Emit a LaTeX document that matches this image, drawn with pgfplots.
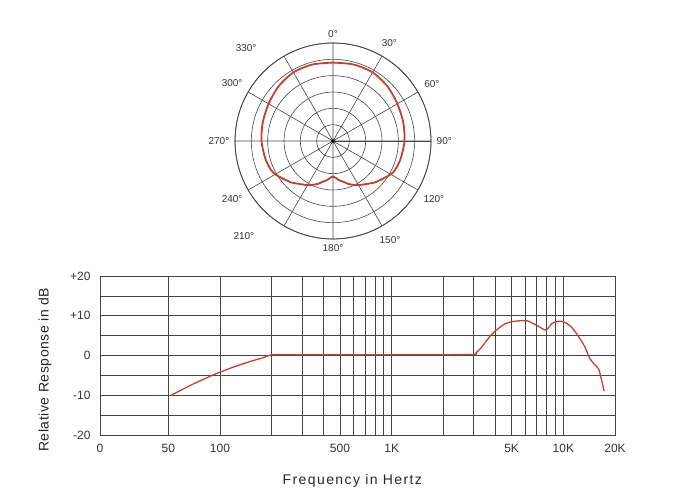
\documentclass[border=0pt]{standalone}
\usepackage{fontspec}
\setmainfont{Liberation Sans}
\usepackage{pgfplots}
\pgfplotsset{compat=1.18}
\usepgfplotslibrary{polar}
\definecolor{curvered}{RGB}{196,64,44}
\definecolor{gridgray}{RGB}{70,70,70}
\begin{document}
\begin{tikzpicture}[x=1pt,y=1pt]
\path[use as bounding box] (0,0) rectangle (677,500);
\begin{polaraxis}[
  at={(333pt,359pt)}, anchor=center,
  scale only axis, width=196pt, height=196pt,
  xmin=0, xmax=360, ymin=0, ymax=6,
  xtick={0,30,...,330},
  xticklabels={90°,60°,30°,0°,{},300°,270°,240°,{},180°,150°,120°},
  ytick={1,2,3,4,5,6}, yticklabels={},
  grid=major, major grid style={gridgray, line width=0.6pt},
  axis line style={gridgray, line width=0.8pt},
  tick label style={font=\fontsize{10}{11}\selectfont, text=black!80},
  xticklabel style={inner sep=5.5pt},
  major tick length=0pt,
  clip=false,
]
\addplot[curvered, line width=1.8pt, smooth, tension=0.45] coordinates {
(90,4.80) (75,4.85) (60,4.85) (45,4.72) (30,4.55) (15,4.45) (0,4.38)
(-15,4.28) (-25,4.19) (-30,4.08) (-37,3.83) (-45,3.60) (-49,3.44)
(-55,3.25) (-62,3.06) (-70,2.80) (-76,2.57) (-82,2.40) (-86,2.25) (-90,2.18)
(-94,2.25) (-98,2.40) (-104,2.57) (-110,2.80) (-118,3.06) (-125,3.25)
(-131,3.44) (-135,3.60) (-143,3.83) (-150,4.08) (-155,4.19) (-165,4.28)
(-180,4.38) (-195,4.45) (-210,4.55) (-225,4.72) (-240,4.85) (-255,4.85) (-270,4.80)
};
\addplot[only marks, mark=*, mark size=1.4pt, black] coordinates {(0,0)};
\node[font=\fontsize{10}{11}\selectfont, text=black!80] at (axis cs:133,7.8) {330°};
\node[font=\fontsize{10}{11}\selectfont, text=black!80] at (axis cs:227,8.0) {210°};
\end{polaraxis}
\begin{axis}[
  at={(100pt,65pt)}, anchor=south west,
  scale only axis, width=515pt, height=159pt,
  xmode=log, xmin=20, xmax=20000, ymin=-20, ymax=20,
  xtick={20,50,100,500,1000,5000,10000,20000},
  xticklabels={0,50,100,500,1K,5K,10K,20K},
  minor xtick={200,300,400,600,700,800,900,2000,3000,4000,6000,7000,8000,9000},
  ytick={-20,-10,0,10,20},
  yticklabels={-20,-10,0,+10,+20},
  minor ytick={-15,-5,5,15},
  grid=both,
  major grid style={gridgray, line width=0.7pt},
  minor grid style={gridgray, line width=0.7pt},
  axis line style={gridgray, line width=0.8pt},
  major tick length=0pt, minor tick length=0pt,
  tick label style={font=\fontsize{12}{14}\selectfont, text=black!80},
  xticklabel style={yshift=-6pt},
  yticklabel style={xshift=-6pt},
  xlabel={\addfontfeature{LetterSpace=10}Frequency in Hertz},
  ylabel={\addfontfeature{LetterSpace=4}Relative Response in dB},
  xlabel style={at={(axis description cs:0.49,0)}, anchor=center, yshift=-46pt,
    font=\fontsize{14}{16}\selectfont, text=black!85},
  ylabel style={at={(axis description cs:-0.107,0.41)}, anchor=center, rotate=0,
    font=\fontsize{14}{16}\selectfont, text=black!85},
]
\addplot[curvered, line width=1.3pt, smooth, tension=0.4] coordinates {
(52,-10) (60,-8.6) (70,-7.15) (80,-6.0) (90,-5.0) (100,-4.2) (120,-2.9)
(150,-1.5) (180,-0.5) (200,0.2) (250,0.2) (1000,0.2) (2900,0.25) (3100,0.7)
(3300,1.8) (3500,3.2) (3750,4.9) (4000,6.1) (4500,7.8) (5000,8.5) (5800,8.8)
(6200,8.7) (7000,7.6) (7900,6.4) (8600,8.1) (9300,8.6) (10000,8.5) (11000,7.4)
(12000,5.4) (13300,2.3) (14200,-0.6) (15200,-2.3) (16100,-3.5) (17300,-9.0)
};
\end{axis}
\end{tikzpicture}
\end{document}
